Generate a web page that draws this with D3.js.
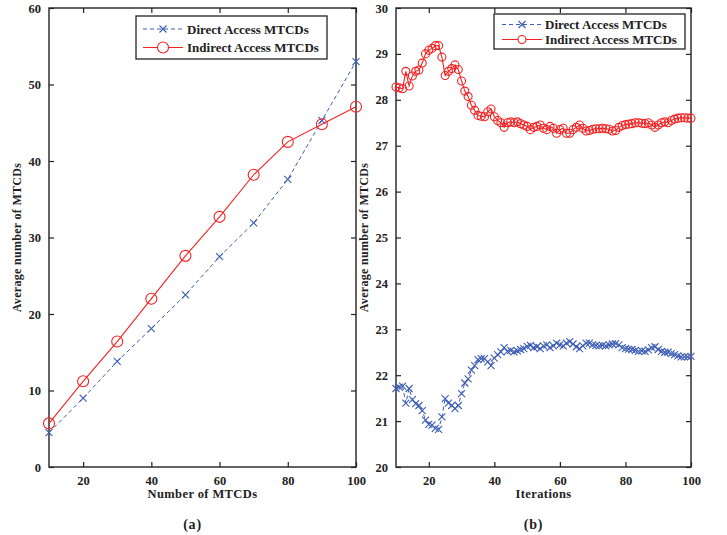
<!DOCTYPE html>
<html>
<head>
<meta charset="utf-8">
<script src="https://cdn.jsdelivr.net/npm/d3@7"></script>
<style>
  body { margin: 0; background: #fff; }
  text { font-family: "Liberation Serif", "Times New Roman", serif; font-weight: bold; fill: #222; }
</style>
</head>
<body>
<script>
// panel (a)
let mtcdCounts = [10, 20, 30, 40, 50, 60, 70, 80, 90, 100];
let directA = [4.5, 9.0, 13.8, 18.1, 22.5, 27.5, 31.9, 37.6, 45.3, 53.0];
let indirectA = [5.7, 11.2, 16.4, 22.0, 27.6, 32.7, 38.2, 42.5, 44.8, 47.1];

// panel (b), iterations 10..100
let iterations = d3.range(10, 101);
let directB = [
  21.71, 21.74, 21.76, 21.39, 21.71, 21.47, 21.38, 21.34, 21.23, 21.02,
  20.93, 20.91, 20.84, 20.82, 21.09, 21.49, 21.39, 21.34, 21.27, 21.34,
  21.60, 21.83, 21.92, 22.11, 22.21, 22.34, 22.36, 22.36, 22.29, 22.21,
  22.37, 22.45, 22.51, 22.60, 22.52, 22.54, 22.51, 22.53, 22.56, 22.58,
  22.63, 22.65, 22.60, 22.62, 22.58, 22.64, 22.66, 22.60, 22.64, 22.70,
  22.66, 22.64, 22.70, 22.73, 22.68, 22.62, 22.58, 22.64, 22.70, 22.70,
  22.66, 22.65, 22.64, 22.65, 22.64, 22.66, 22.68, 22.69, 22.66, 22.60,
  22.58, 22.57, 22.56, 22.54, 22.52, 22.53, 22.52, 22.55, 22.60, 22.62,
  22.56, 22.52, 22.50, 22.50, 22.47, 22.45, 22.42, 22.40, 22.40, 22.40,
  22.41
];
let indirectB = [
  28.28, 28.26, 28.24, 28.62, 28.30, 28.52, 28.62, 28.65, 28.80, 29.00,
  29.08, 29.12, 29.18, 29.18, 28.93, 28.53, 28.62, 28.68, 28.76, 28.66,
  28.41, 28.19, 28.07, 27.88, 27.77, 27.66, 27.64, 27.63, 27.74, 27.80,
  27.63, 27.55, 27.50, 27.40, 27.50, 27.52, 27.50, 27.52, 27.48, 27.45,
  27.42, 27.35, 27.40, 27.42, 27.45, 27.38, 27.35, 27.42, 27.38, 27.27,
  27.35, 27.38, 27.27, 27.27, 27.35, 27.40, 27.45, 27.38, 27.32, 27.33,
  27.36, 27.37, 27.37, 27.38, 27.37, 27.36, 27.32, 27.33, 27.40, 27.44,
  27.46, 27.47, 27.48, 27.50, 27.50, 27.49, 27.48, 27.50, 27.45, 27.40,
  27.45, 27.50, 27.52, 27.50, 27.55, 27.58, 27.60, 27.61, 27.61, 27.60,
  27.60
];

let legendLabels = ["Direct Access MTCDs", "Indirect Access MTCDs"];
let blue = "#3d5db4", red = "#f52222";

let svg = d3.select("body").append("svg")
    .attr("width", 727)
    .attr("height", 535);

function panel(opt) {
    let x = d3.scaleLinear().domain(opt.xDomain).range([opt.left, opt.right]);
    let y = d3.scaleLinear().domain(opt.yDomain).range([opt.bottom, opt.top]);
    let g = svg.append("g");

    let style = function (sel) {
        sel.select(".domain").remove();
        sel.selectAll("line").attr("stroke", "#222").attr("stroke-width", 1.2);
        sel.selectAll("text").style("font-size", "12.5px").attr("fill", "#222");
    };

    g.append("g")
        .attr("transform", "translate(" + opt.left + ",0)")
        .call(d3.axisLeft(y).tickValues(opt.yTicks).tickSize(-5).tickPadding(8).tickFormat(d3.format("d")))
        .call(style);
    g.append("g")
        .attr("transform", "translate(" + opt.right + ",0)")
        .call(d3.axisRight(y).tickValues(opt.yTicks).tickSize(-5).tickFormat(""))
        .call(style);
    g.append("g")
        .attr("transform", "translate(0," + opt.bottom + ")")
        .call(d3.axisBottom(x).tickValues(opt.xTicks).tickSize(-5).tickPadding(9))
        .call(style);
    g.append("g")
        .attr("transform", "translate(0," + opt.top + ")")
        .call(d3.axisTop(x).tickValues(opt.xTicks).tickSize(-5).tickFormat(""))
        .call(style);

    g.append("rect")
        .attr("x", opt.left).attr("y", opt.top)
        .attr("width", opt.right - opt.left).attr("height", opt.bottom - opt.top)
        .attr("fill", "none").attr("stroke", "#222").attr("stroke-width", 1.4);

    let line = d3.line().x(d => x(d[0])).y(d => y(d[1]));
    let dPts = opt.xs.map((v, i) => [v, opt.direct[i]]);
    let iPts = opt.xs.map((v, i) => [v, opt.indirect[i]]);

    g.append("path").datum(dPts).attr("d", line)
        .attr("fill", "none").attr("stroke", blue).attr("stroke-width", 1)
        .attr("stroke-dasharray", "4,3");
    g.append("path").datum(iPts).attr("d", line)
        .attr("fill", "none").attr("stroke", red).attr("stroke-width", 1.1);

    let s = opt.cross;
    g.selectAll(".cross").data(dPts).enter().append("path")
        .attr("d", d => "M" + (x(d[0]) - s) + "," + (y(d[1]) - s) + "L" + (x(d[0]) + s) + "," + (y(d[1]) + s) +
            "M" + (x(d[0]) - s) + "," + (y(d[1]) + s) + "L" + (x(d[0]) + s) + "," + (y(d[1]) - s))
        .attr("stroke", blue).attr("stroke-width", 1.1).attr("fill", "none");
    g.selectAll(".circ").data(iPts).enter().append("circle")
        .attr("cx", d => x(d[0])).attr("cy", d => y(d[1])).attr("r", opt.radius)
        .attr("fill", "none").attr("stroke", red).attr("stroke-width", 1.1);

    // legend
    let lg = opt.legend;
    g.append("rect")
        .attr("x", lg.x).attr("y", lg.y).attr("width", lg.w).attr("height", lg.h)
        .attr("fill", "#fff").attr("stroke", "#222").attr("stroke-width", 1.3);
    legendLabels.forEach(function (lab, i) {
        let ly = lg.y + lg.row0 + i * lg.step;
        let cx = lg.x + lg.lineX0 + (lg.lineX1 - lg.lineX0) / 2;
        g.append("line")
            .attr("x1", lg.x + lg.lineX0).attr("x2", lg.x + lg.lineX1).attr("y1", ly).attr("y2", ly)
            .attr("stroke", i === 0 ? blue : red).attr("stroke-width", 1.1)
            .attr("stroke-dasharray", i === 0 ? "4,3" : null);
        if (i === 0) {
            g.append("path")
                .attr("d", "M" + (cx - s) + "," + (ly - s) + "L" + (cx + s) + "," + (ly + s) +
                    "M" + (cx - s) + "," + (ly + s) + "L" + (cx + s) + "," + (ly - s))
                .attr("stroke", blue).attr("stroke-width", 1.1);
        } else {
            g.append("circle").attr("cx", cx).attr("cy", ly).attr("r", opt.radius)
                .attr("fill", "#fff").attr("stroke", red).attr("stroke-width", 1.1);
        }
        g.append("text")
            .attr("x", lg.x + lg.textX).attr("y", ly + 4.5)
            .style("font-size", "13px")
            .text(lab);
    });

    // axis titles
    g.append("text")
        .attr("transform", "translate(" + opt.yTitleX + "," + ((opt.top + opt.bottom) / 2) + ") rotate(-90)")
        .attr("text-anchor", "middle").style("font-size", "12px").style("letter-spacing", "0.3px")
        .text("Average number of MTCDs");
    g.append("text")
        .attr("x", (opt.left + opt.right) / 2).attr("y", 498)
        .attr("text-anchor", "middle").style("font-size", "12.5px").style("letter-spacing", "0.4px")
        .text(opt.xTitle);
    g.append("text")
        .attr("x", (opt.left + opt.right) / 2 - 10).attr("y", 529)
        .attr("text-anchor", "middle").style("font-size", "14px").style("letter-spacing", "0.8px")
        .text(opt.tag);
}

panel({
    left: 49, right: 356, top: 8, bottom: 467,
    xDomain: [10, 100], yDomain: [0, 60],
    xTicks: [20, 40, 60, 80, 100], yTicks: [0, 10, 20, 30, 40, 50, 60],
    xs: mtcdCounts, direct: directA, indirect: indirectA,
    cross: 3.5, radius: 5.5,
    legend: {x: 136, y: 16, w: 191, h: 43, row0: 13, step: 18.5, lineX0: 7, lineX1: 47, textX: 51},
    yTitleX: 21, xTitle: "Number of MTCDs", tag: "(a)"
});

panel({
    left: 396, right: 691, top: 8, bottom: 467,
    xDomain: [10, 100], yDomain: [20, 30],
    xTicks: [20, 40, 60, 80, 100], yTicks: [20, 21, 22, 23, 24, 25, 26, 27, 28, 29, 30],
    xs: iterations, direct: directB, indirect: indirectB,
    cross: 3.5, radius: 4,
    legend: {x: 494, y: 14, w: 191, h: 35, row0: 10.5, step: 15, lineX0: 8, lineX1: 48, textX: 51},
    yTitleX: 368, xTitle: "Iterations", tag: "(b)"
});
</script>
</body>
</html>
